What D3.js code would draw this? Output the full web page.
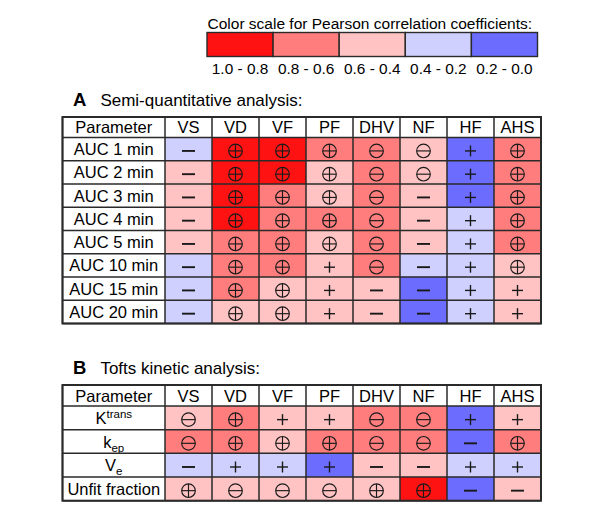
<!DOCTYPE html>
<html>
<head>
<meta charset="utf-8">
<script src="https://cdn.jsdelivr.net/npm/d3@7"></script>
<style>
  body { margin: 0; background: #fff; }
  svg { font-family: "Liberation Sans", Arial, sans-serif; }
</style>
</head>
<body>
<svg width="600" height="509"></svg>
<script>
// correlation bins (legend) and their fills
const binLabels = ["1.0 - 0.8", "0.8 - 0.6", "0.6 - 0.4", "0.4 - 0.2", "0.2 - 0.0"];
const binColors = ["#ff1212", "#ff7d7d", "#ffc3c3", "#d0d0ff", "#6c6cff"];

const columns = ["VS", "VD", "VF", "PF", "DHV", "NF", "HF", "AHS"];

// A: semi-quantitative analysis
const semiRows = ["AUC 1 min", "AUC 2 min", "AUC 3 min", "AUC 4 min", "AUC 5 min", "AUC 10 min", "AUC 15 min", "AUC 20 min"];
// bin index (0 = strongest) per cell
const semiBins = [
  [3, 0, 0, 1, 1, 2, 4, 1],
  [2, 0, 0, 2, 1, 2, 4, 1],
  [2, 0, 1, 2, 1, 2, 4, 1],
  [2, 0, 1, 1, 1, 2, 3, 1],
  [2, 1, 1, 2, 1, 2, 3, 1],
  [3, 1, 1, 2, 1, 3, 3, 2],
  [3, 1, 2, 2, 2, 4, 3, 2],
  [3, 2, 2, 2, 2, 4, 3, 2]
];
// sign symbols: "+", "–", circled ones "⊕" / "⊖"
const semiSigns = [
  ["–", "⊕", "⊕", "⊕", "⊖", "⊖", "+", "⊕"],
  ["–", "⊕", "⊕", "⊕", "⊖", "⊖", "+", "⊕"],
  ["–", "⊕", "⊕", "⊕", "⊖", "–", "+", "⊕"],
  ["–", "⊕", "⊕", "⊕", "⊖", "–", "+", "⊕"],
  ["–", "⊕", "⊕", "⊕", "⊖", "–", "+", "⊕"],
  ["–", "⊕", "⊕", "+", "⊖", "–", "+", "⊕"],
  ["–", "⊕", "⊕", "+", "–", "–", "+", "+"],
  ["–", "⊕", "⊕", "+", "–", "–", "+", "+"]
];

// B: Tofts kinetic analysis
const toftsRows = [["K", "trans", "sup"], ["k", "ep", "sub"], ["V", "e", "sub"], ["Unfit fraction", "", ""]];
const toftsBins = [
  [2, 1, 2, 2, 1, 1, 4, 2],
  [1, 1, 2, 1, 1, 1, 4, 1],
  [3, 3, 3, 4, 2, 2, 3, 3],
  [2, 2, 2, 2, 2, 0, 4, 2]
];
const toftsSigns = [
  ["⊖", "⊕", "+", "+", "⊖", "⊖", "+", "+"],
  ["⊖", "⊕", "⊕", "⊕", "⊖", "⊖", "–", "⊕"],
  ["–", "+", "+", "+", "–", "–", "+", "+"],
  ["⊕", "⊖", "⊖", "⊖", "⊕", "⊕", "–", "–"]
];

const svg = d3.select("svg");
const lineColor = "#2a2a2a";
const ink = "#1a1a1a";

// ---- legend ----
const legX = d3.scaleBand().domain(binLabels).range([207, 537.5]);
const lg = svg.append("g");
lg.append("text")
  .attr("x", 207.5).attr("y", 28.5)
  .attr("font-size", 15.5)
  .text("Color scale for Pearson correlation coefficients:");
lg.selectAll("rect")
  .data(binLabels)
  .join("rect")
  .attr("x", (d) => legX(d))
  .attr("y", 32.5)
  .attr("width", legX.bandwidth())
  .attr("height", 24)
  .attr("fill", (d, i) => binColors[i])
  .attr("stroke", lineColor)
  .attr("stroke-width", 1.4);
lg.selectAll("text.lab")
  .data(binLabels)
  .join("text")
  .classed("lab", true)
  .attr("x", (d) => legX(d) + legX.bandwidth() / 2)
  .attr("y", 74)
  .attr("text-anchor", "middle")
  .attr("font-size", 15.4)
  .text((d) => d);

// ---- tables ----
const colX = d3.scaleBand().domain(columns).range([165, 541]);
const paramLeft = 62.5;

function drawSign(g, s, cx, cy) {
  const circled = s === "⊕" || s === "⊖";
  const plus = s === "⊕" || s === "+";
  const sg = g.append("g").attr("transform", `translate(${cx},${cy})`);
  sg.append("title").text(s);
  if (circled) {
    sg.append("circle").attr("r", 6.8)
      .attr("fill", "none").attr("stroke", ink).attr("stroke-width", 1.15);
    sg.append("line").attr("x1", -6.8).attr("x2", 6.8)
      .attr("stroke", ink).attr("stroke-width", 1.15);
    if (plus) {
      sg.append("line").attr("y1", -6.8).attr("y2", 6.8)
        .attr("stroke", ink).attr("stroke-width", 1.15);
    }
  } else if (plus) {
    sg.append("line").attr("x1", -5.5).attr("x2", 5.5)
      .attr("stroke", ink).attr("stroke-width", 1.4);
    sg.append("line").attr("y1", -5.5).attr("y2", 5.5)
      .attr("stroke", ink).attr("stroke-width", 1.4);
  } else {
    sg.append("line").attr("x1", -6.5).attr("x2", 6.5)
      .attr("stroke", ink).attr("stroke-width", 1.9);
  }
}

function drawTable(opt) {
  const g = svg.append("g");
  const rowY = d3.scaleBand()
    .domain(d3.range(opt.rows.length))
    .range([opt.top + opt.headH, opt.bottom]);

  // title
  const t = g.append("text").attr("x", 73).attr("y", opt.top - 11).attr("font-size", 17);
  t.append("tspan").attr("font-weight", "bold").attr("font-size", 18.5).text(opt.letter);
  t.append("tspan").attr("dx", 14).text(opt.title);

  // cells
  opt.bins.forEach((row, r) => {
    row.forEach((b, c) => {
      g.append("rect")
        .attr("x", colX(columns[c]))
        .attr("y", rowY(r))
        .attr("width", colX.bandwidth())
        .attr("height", rowY.bandwidth())
        .attr("fill", binColors[b]);
      drawSign(g, opt.signs[r][c],
        colX(columns[c]) + colX.bandwidth() / 2,
        rowY(r) + rowY.bandwidth() / 2 + 1.8);
    });
  });

  // header texts
  g.append("text")
    .attr("x", (paramLeft + 165) / 2)
    .attr("y", opt.top + opt.headH / 2 + 6)
    .attr("text-anchor", "middle")
    .attr("font-size", 16.5)
    .text("Parameter");
  g.selectAll("text.col")
    .data(columns)
    .join("text")
    .classed("col", true)
    .attr("x", (d) => colX(d) + colX.bandwidth() / 2)
    .attr("y", opt.top + opt.headH / 2 + 6)
    .attr("text-anchor", "middle")
    .attr("font-size", 16.5)
    .text((d) => d);

  // row labels
  opt.rows.forEach((lab, r) => {
    const tx = g.append("text")
      .attr("x", (paramLeft + 165) / 2)
      .attr("y", rowY(r) + rowY.bandwidth() / 2 + 6)
      .attr("text-anchor", "middle")
      .attr("font-size", 16.5);
    if (Array.isArray(lab)) {
      tx.append("tspan").text(lab[0]);
      if (lab[1]) {
        tx.append("tspan")
          .attr("font-size", 11.5)
          .attr("dy", lab[2] === "sup" ? -6 : 4)
          .text(lab[1]);
      }
    } else {
      tx.text(lab);
    }
  });

  // grid lines
  const ys = [opt.top, ...rowY.domain().map((r) => rowY(r)), opt.bottom];
  const xs = [paramLeft, ...columns.map((c) => colX(c)), 541];
  g.selectAll("line.h")
    .data(ys)
    .join("line")
    .classed("h", true)
    .attr("x1", paramLeft).attr("x2", 541)
    .attr("y1", (d) => d).attr("y2", (d) => d)
    .attr("stroke", lineColor).attr("stroke-width", 1.5);
  g.selectAll("line.v")
    .data(xs)
    .join("line")
    .classed("v", true)
    .attr("y1", opt.top).attr("y2", opt.bottom)
    .attr("x1", (d) => d).attr("x2", (d) => d)
    .attr("stroke", lineColor).attr("stroke-width", 1.5);
  g.append("rect")
    .attr("x", paramLeft).attr("y", opt.top)
    .attr("width", 541 - paramLeft).attr("height", opt.bottom - opt.top)
    .attr("fill", "none").attr("stroke", lineColor).attr("stroke-width", 2);
}

drawTable({
  letter: "A", title: "Semi-quantitative analysis:",
  rows: semiRows, bins: semiBins, signs: semiSigns,
  top: 117, headH: 20.5, bottom: 323.5
});
drawTable({
  letter: "B", title: "Tofts kinetic analysis:",
  rows: toftsRows, bins: toftsBins, signs: toftsSigns,
  top: 385, headH: 21, bottom: 500.7
});
</script>
</body>
</html>
